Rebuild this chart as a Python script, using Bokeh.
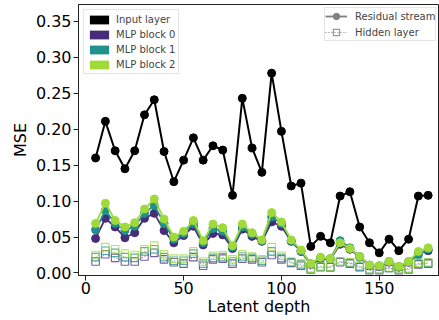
from bokeh.plotting import figure
from bokeh.models import Legend, LegendItem, FixedTicker, NumeralTickFormatter, Range1d
from bokeh.embed import file_html
from bokeh.resources import INLINE

# ---- data ----
depth = [5, 10, 15, 20, 25, 30, 35, 40, 45, 50, 55, 60, 65, 70, 75, 80, 85, 90,
         95, 100, 105, 110, 115, 120, 125, 130, 135, 140, 145, 150, 155, 160, 165, 170, 175]

input_layer = [0.160, 0.211, 0.170, 0.145, 0.170, 0.220, 0.241, 0.169, 0.127, 0.157,
               0.188, 0.157, 0.177, 0.171, 0.108, 0.243, 0.174, 0.140, 0.278, 0.197,
               0.121, 0.125, 0.037, 0.051, 0.042, 0.107, 0.113, 0.064, 0.042, 0.028,
               0.047, 0.031, 0.047, 0.107, 0.108]

res_block0 = [0.048, 0.076, 0.064, 0.049, 0.056, 0.076, 0.083, 0.059, 0.042, 0.052,
              0.065, 0.039, 0.055, 0.053, 0.034, 0.061, 0.051, 0.044, 0.071, 0.065,
              0.044, 0.030, 0.012, 0.020, 0.019, 0.040, 0.033, 0.022, 0.010, 0.009,
              0.015, 0.008, 0.015, 0.027, 0.031]
res_block1 = [0.060, 0.087, 0.069, 0.059, 0.065, 0.083, 0.094, 0.069, 0.047, 0.055,
              0.069, 0.042, 0.062, 0.058, 0.036, 0.064, 0.054, 0.045, 0.078, 0.069,
              0.045, 0.031, 0.013, 0.021, 0.020, 0.045, 0.035, 0.023, 0.011, 0.010,
              0.016, 0.009, 0.016, 0.025, 0.033]
res_block2 = [0.069, 0.097, 0.073, 0.064, 0.070, 0.089, 0.103, 0.075, 0.050, 0.058,
              0.073, 0.045, 0.068, 0.063, 0.038, 0.068, 0.056, 0.046, 0.084, 0.071,
              0.046, 0.032, 0.013, 0.022, 0.020, 0.042, 0.034, 0.023, 0.011, 0.010,
              0.016, 0.009, 0.016, 0.030, 0.035]

hid_block0 = [0.016, 0.026, 0.021, 0.016, 0.016, 0.023, 0.028, 0.019, 0.015, 0.013,
              0.022, 0.010, 0.019, 0.020, 0.013, 0.020, 0.019, 0.015, 0.025, 0.019,
              0.014, 0.010, 0.005, 0.008, 0.008, 0.015, 0.013, 0.008, 0.004, 0.004,
              0.007, 0.004, 0.005, 0.012, 0.013]
hid_block1 = [0.022, 0.031, 0.028, 0.022, 0.021, 0.030, 0.033, 0.022, 0.017, 0.017,
              0.027, 0.013, 0.021, 0.022, 0.016, 0.023, 0.021, 0.017, 0.030, 0.021,
              0.015, 0.012, 0.006, 0.009, 0.008, 0.016, 0.014, 0.009, 0.005, 0.005,
              0.007, 0.005, 0.006, 0.013, 0.014]
hid_block2 = [0.025, 0.036, 0.033, 0.027, 0.025, 0.033, 0.038, 0.026, 0.020, 0.020,
              0.030, 0.016, 0.024, 0.025, 0.019, 0.026, 0.023, 0.019, 0.036, 0.024,
              0.016, 0.013, 0.006, 0.009, 0.009, 0.016, 0.015, 0.010, 0.005, 0.005,
              0.008, 0.005, 0.006, 0.014, 0.015]

block_names = ["MLP block 0", "MLP block 1", "MLP block 2"]
block_colors = ["#472C7A", "#21918C", "#A0DA39"]
res_series = [res_block0, res_block1, res_block2]
hid_series = [hid_block0, hid_block1, hid_block2]

x_ticks = [0, 50, 100, 150]
y_ticks = [0.0, 0.05, 0.10, 0.15, 0.20, 0.25, 0.30, 0.35]

FONT = "DejaVu Sans"
NAN = float("nan")

p = figure(width=439, height=320, output_backend="svg", toolbar_location=None,
           x_range=Range1d(-3.73, 180.8), y_range=Range1d(-0.0035, 0.3735),
           min_border_left=78, min_border_right=0, min_border_top=4, min_border_bottom=45)

p.xgrid.visible = False
p.ygrid.visible = False
p.outline_line_color = "#222222"
p.outline_line_width = 1
p.background_fill_color = "white"
p.border_fill_color = "white"

p.xaxis.ticker = FixedTicker(ticks=x_ticks)
p.yaxis.ticker = FixedTicker(ticks=y_ticks)
p.yaxis.formatter = NumeralTickFormatter(format="0.00")
for ax in (p.xaxis[0], p.yaxis[0]):
    ax.minor_tick_line_color = None
    ax.major_tick_in = 0
    ax.major_tick_out = 5
    ax.major_tick_line_color = "#222222"
    ax.axis_line_color = "#222222"
    ax.major_label_text_font = FONT
    ax.major_label_text_font_size = "16px"
    ax.major_label_text_color = "black"
    ax.axis_label_text_font = FONT
    ax.axis_label_text_font_size = "16px"
    ax.axis_label_text_font_style = "normal"
    ax.axis_label_text_color = "black"
p.xaxis.axis_label = "Latent depth"
p.yaxis.axis_label = "MSE"
p.xaxis.major_label_standoff = 1
p.xaxis.axis_label_standoff = 0
p.yaxis.major_label_standoff = 2
p.yaxis.axis_label_standoff = 3

# input layer
p.line(depth, input_layer, line_color="black", line_width=2)
p.scatter(depth, input_layer, size=8, color="black")

for c, r, h in zip(block_colors, res_series, hid_series):
    p.line(depth, r, line_color=c, line_width=1.8)
    p.scatter(depth, r, size=8, color=c)
    p.line(depth, h, line_color=c, line_width=1, line_dash="1 2", line_alpha=0.8)
    p.scatter(depth, h, marker="square", size=7.5, line_color=c, fill_color=None,
              line_width=1.1, line_alpha=0.75)

# legend 1 (colour patches) - proxy renderers with no visible data
patch_items = []
for name, c in zip(["Input layer"] + block_names, ["black"] + block_colors):
    q = p.quad(left=[NAN], right=[NAN], top=[NAN], bottom=[NAN], fill_color=c, line_color=None)
    patch_items.append(LegendItem(label=name, renderers=[q]))
leg1 = Legend(items=patch_items, location="top_left", margin=5, padding=3, spacing=3,
              glyph_width=24, glyph_height=11, label_height=12, label_standoff=5,
              label_text_font=FONT, label_text_font_size="10px",
              border_line_color="#cccccc", background_fill_alpha=0.8)
p.add_layout(leg1)

# legend 2 (line styles) - proxy renderers
rl = p.line(x=[NAN], y=[NAN], line_color="gray", line_width=1.8)
rs = p.scatter(x=[NAN], y=[NAN], size=8, color="gray")
hl = p.line(x=[NAN], y=[NAN], line_color="gray", line_width=1, line_dash="1 2")
hs = p.scatter(x=[NAN], y=[NAN], marker="square", size=8, line_color="gray", fill_color=None)
leg2 = Legend(items=[LegendItem(label="Residual stream", renderers=[rl, rs]),
                     LegendItem(label="Hidden layer", renderers=[hl, hs])],
              location=(246, 234), margin=0, padding=0, spacing=0,
              glyph_width=22, glyph_height=16, label_height=16, label_standoff=8,
              label_text_font=FONT, label_text_font_size="10px",
              border_line_color="#cccccc", background_fill_alpha=0.8)
p.add_layout(leg2)

open("out.html", "w").write(file_html(p, INLINE))
